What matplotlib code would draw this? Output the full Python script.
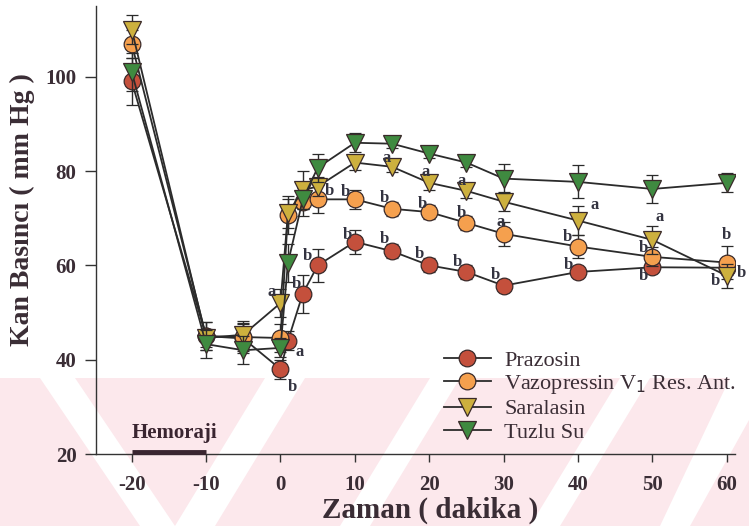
import matplotlib
matplotlib.use("Agg")
import matplotlib.pyplot as plt
from matplotlib.patches import Polygon
import numpy as np

# time points (dakika)
zaman = [-20, -10, -5, 0, 1, 3, 5, 10, 15, 20, 25, 30, 40, 50, 60]

prazosin = [99, 45, 44.5, 38, 44, 54, 60, 65, 63, 60, 58.6, 55.7, 58.6, 59.6, 59.5]
prazosin_err = [5, 3, 3, 2, 2, 4, 3.5, 2.5, 1.5, 1.5, 1.5, 1, 1, 1, 1.5]

vazopressin = [107, 45, 44.8, 44.6, 70.7, 73.5, 74, 74, 72, 71.3, 69, 66.7, 64, 61.8, 60.6]
vazopressin_err = [3, 3, 3, 3, 4, 3, 3, 2, 1.5, 1.5, 1.5, 2.5, 2.5, 2, 3.5]

saralasin = [110, 44.6, 45.3, 52, 71, 76, 76.7, 81.8, 80.9, 77.5, 75.8, 73.5, 69.5, 65.4, 57.8]
saralasin_err = [3, 2, 3, 3, 3, 4, 2, 1.5, 1, 1.5, 1.5, 2, 3, 3, 2.5]

tuzlu_su = [101, 43.3, 42, 42.5, 60.5, 74, 80.7, 86, 85.8, 83.7, 81.8, 78.4, 77.7, 76.2, 77.5]
tuzlu_su_err = [4, 3, 3, 2, 4, 2, 3, 2, 1, 1, 1, 3, 3.5, 3, 2]

seriler = ["Prazosin", "Vazopressin V$_1$ Res. Ant.", "Saralasin", "Tuzlu Su"]
renkler = ["#c4503c", "#f5a04e", "#cdb03e", "#3f8a40"]
isaretler = ["o", "o", "v", "v"]

# significance letters: (series index, time, letter)
harfler = [
    (0, 0, "b"), (0, 1, "a"), (0, 3, "b"), (0, 5, "b"), (0, 10, "b"), (0, 15, "b"),
    (0, 20, "b"), (0, 25, "b"), (0, 30, "b"), (0, 40, "b"), (0, 50, "b"), (0, 60, "b"),
    (1, 5, "b"), (1, 10, "b"), (1, 15, "b"), (1, 20, "b"), (1, 25, "b"), (1, 30, "a"),
    (1, 40, "b"), (1, 50, "b"), (1, 60, "b"),
    (2, 0, "a"), (2, 15, "a"), (2, 20, "a"), (2, 25, "a"), (2, 40, "a"), (2, 50, "a"),
    (2, 60, "b"),
]
# offsets (pixels) of each letter from its point
kaydir = [
    (12, -18), (12, -11), (-6, 10), (-10, 9), (-7, 7), (-8, 12),
    (-10, 11), (-9, 10), (-8, 11), (-10, 7), (-9, -9), (15, -5),
    (12, 8), (-9, 7), (-8, 11), (-7, 8), (-5, 10), (-3, 12),
    (-11, 10), (-9, 9), (0, 28),
    (-9, 11), (-5, 9), (-4, 11), (-5, 10), (17, 16), (7, 23),
    (-11, -5),
]

W, H = 749, 526
fig = plt.figure(figsize=(W / 100, H / 100), dpi=100)
plt.rcParams["font.family"] = ["Liberation Serif", "DejaVu Serif"]
plt.rcParams["axes.unicode_minus"] = False


def px(x, y):
    return (x / W, 1 - y / H)


# pale watermark at the bottom of the page
pembe = "#fce8ec"
fig.patches.append(Polygon([px(0, 378), px(W, 378), px(W, H), px(0, H)],
                           closed=True, transform=fig.transFigure,
                           facecolor=pembe, edgecolor="none", zorder=-10))
seritler = [
    [(40, 378), (75, 378), (175, 526), (140, 526)],
    [(265, 378), (305, 378), (215, 526), (175, 526)],
    [(430, 378), (460, 378), (370, 526), (340, 526)],
    [(620, 378), (650, 378), (560, 526), (530, 526)],
    [(730, 378), (749, 378), (749, 420), (690, 526), (660, 526)],
]
for s in seritler:
    fig.patches.append(Polygon([px(*p) for p in s], closed=True,
                               transform=fig.transFigure, facecolor="white",
                               edgecolor="none", zorder=-9))

ax = fig.add_axes([96 / W, 1 - 454 / H, (735 - 96) / W, (454 - 6) / H])
ax.set_facecolor("none")

veriler = [prazosin, vazopressin, saralasin, tuzlu_su]
hatalar = [prazosin_err, vazopressin_err, saralasin_err, tuzlu_su_err]

cizgiler = []
for i in range(4):
    c = ax.errorbar(zaman, veriler[i], yerr=hatalar[i], color="#2b2b2b", lw=1.3,
                    elinewidth=1.0, capsize=4, capthick=1.0,
                    marker=isaretler[i], markersize=12 if isaretler[i] == "o" else 13,
                    markerfacecolor=renkler[i], markeredgecolor="#3a2a2a",
                    markeredgewidth=0.9, zorder=3 + i)
    cizgiler.append(c[0])

for (si, t, h), (dx, dy) in zip(harfler, kaydir):
    y = veriler[si][zaman.index(t)]
    ax.annotate(h, (t, y), xytext=(dx * 0.72, dy * 0.72), textcoords="offset points",
                ha="center", va="center", fontsize=12, fontweight="bold",
                color="#333340", zorder=10)

# hemorrhage period
ax.plot([-20, -10], [20.5, 20.5], color="#3a2530", lw=3.5, solid_capstyle="butt",
        clip_on=False, zorder=5)
ax.text(-20, 22.3, "Hemoraji", fontsize=15, fontweight="bold", color="#3a2530",
        ha="left", va="bottom")

ax.set_xlim(-24.8, 61.1)
ax.set_ylim(20, 115)
ax.set_xticks([-20, -10, 0, 10, 20, 30, 40, 50, 60])
ax.set_yticks([20, 40, 60, 80, 100])
ax.tick_params(direction="out", width=1, color="#333333",
               labelsize=15, labelcolor="#3a2d35")
ax.tick_params(axis="x", length=6, pad=9)
ax.tick_params(axis="y", length=8, pad=6)
for lab in ax.get_xticklabels() + ax.get_yticklabels():
    lab.set_fontweight("bold")
for side in ["top", "right"]:
    ax.spines[side].set_visible(False)
for side in ["left", "bottom"]:
    ax.spines[side].set_color("#333333")
    ax.spines[side].set_linewidth(1.0)

ax.set_xlabel("Zaman ( dakika )", fontsize=21, fontweight="bold", color="#3a2d35")
ax.set_ylabel("Kan Basıncı ( mm Hg )", fontsize=20, fontweight="bold",
              color="#3a2d35")
ax.xaxis.set_label_coords((430 - 96) / 639, (454 - 510) / 448)
ax.yaxis.set_label_coords((22 - 96) / 639, (454 - 210) / 448)
ax.xaxis.label.set_va("center")
ax.yaxis.label.set_va("center")

leg = ax.legend(cizgiler, seriler, loc="upper left",
                bbox_to_anchor=(444 / W, 1 - 350 / H),
                bbox_transform=fig.transFigure, frameon=False, fontsize=16,
                handlelength=2.1, handletextpad=0.6, labelspacing=0.12,
                borderpad=0, borderaxespad=0)
for t in leg.get_texts():
    t.set_color("#3a2d35")

fig.savefig("out.png", dpi=100)
